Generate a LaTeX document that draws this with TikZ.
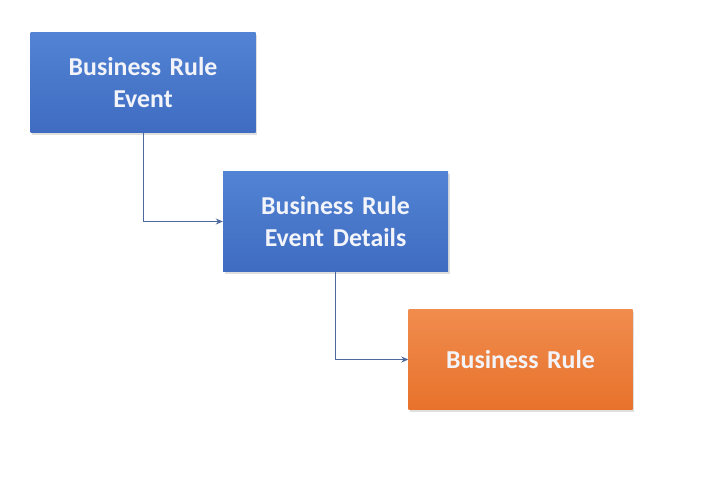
\documentclass[tikz,border=0pt]{standalone}
\usepackage{fontspec}
\setmainfont{Carlito}
\usetikzlibrary{arrows.meta,shadows}
\definecolor{bluetop}{HTML}{5283D4}
\definecolor{bluebot}{HTML}{3F6CC1}
\definecolor{orgtop}{HTML}{F08C4E}
\definecolor{orgbot}{HTML}{E8722B}
\definecolor{linec}{HTML}{4D6A9E}
\definecolor{txtc}{HTML}{F2F4FA}
\tikzset{
  box/.style={rectangle, minimum height=100pt, text width=215pt, align=center,
    font=\bfseries\fontsize{25.8}{32}\selectfont, text=txtc, inner sep=0pt,
    drop shadow={shadow xshift=1.5pt, shadow yshift=-2pt, opacity=0.25}},
  bluebox/.style={box, top color=bluetop, bottom color=bluebot, minimum width=225pt},
  orangebox/.style={box, top color=orgtop, bottom color=orgbot, minimum width=224pt},
  conn/.style={draw=linec, line width=1pt, -{Stealth[length=7pt,width=6pt]}}
}
\begin{document}
\begin{tikzpicture}[x=1pt,y=-1pt]
\fill[white] (0,0) rectangle (714,488);
\useasboundingbox (0,0) rectangle (714,488);
\node[bluebox] (e) at (143,82.5) {Business Rule\\Event};
\node[bluebox] (d) at (335.5,221.5) {Business Rule\\Event Details};
\node[orangebox] (r) at (520.5,359.5) {Business Rule};
\draw[conn] (e.south) |- (d.west);
\draw[conn] (d.south) |- (r.west);
\end{tikzpicture}
\end{document}
